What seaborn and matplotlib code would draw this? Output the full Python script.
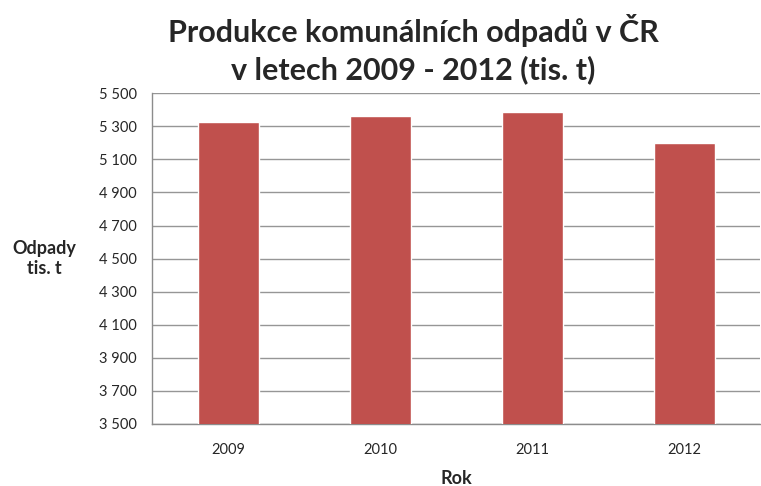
import pandas as pd
import matplotlib.pyplot as plt
import seaborn as sns
from matplotlib.ticker import FuncFormatter, FixedLocator

# data
years = ['2009', '2010', '2011', '2012']
odpady = [5324, 5363, 5387, 5197]
y_ticks = list(range(3500, 5501, 200))

df = pd.DataFrame({'Rok': years, 'Odpady': odpady})

sns.set_style('white')
plt.rcParams['font.family'] = ['Lato', 'DejaVu Sans']

fig = plt.figure(figsize=(7.61, 4.86), dpi=100)
ax = fig.add_axes([0.2, 0.128, 0.799, 0.68])

sns.barplot(data=df, x='Rok', y='Odpady', color='#C0504D', width=0.4,
            saturation=1, ax=ax, zorder=3)

ax.set_ylim(3500, 5500)
ax.set_xlim(-0.5, 3.5)
ax.set_yticks(y_ticks)
ax.yaxis.set_major_formatter(FuncFormatter(lambda v, p: f'{int(v):,}'.replace(',', ' ')))
ax.grid(axis='y', color='#969696', linewidth=1, zorder=0)
ax.set_axisbelow(True)

for s in ['top', 'right']:
    ax.spines[s].set_visible(False)
for s in ['left', 'bottom']:
    ax.spines[s].set_color('#8c8c8c')
    ax.spines[s].set_linewidth(1)

ax.tick_params(axis='y', length=5, color='#8c8c8c', labelsize=10.5, pad=6)
ax.tick_params(axis='x', which='major', length=0, labelsize=10.5, pad=14)
ax.xaxis.set_minor_locator(FixedLocator([-0.5, 0.5, 1.5, 2.5]))
ax.tick_params(axis='x', which='minor', length=5, color='#8c8c8c')

ax.set_xlabel('Rok', fontsize=13, fontweight='bold', labelpad=9)
ax.set_ylabel('Odpady\ntis. t', fontsize=13, fontweight='bold', rotation=0,
              ha='center', va='center')
ax.yaxis.set_label_coords(-0.177, 0.5)

fig.text(0.543, 0.972, 'Produkce komunálních odpadů v ČR\nv letech 2009 - 2012 (tis. t)',
         ha='center', va='top', fontsize=22, fontweight='bold', linespacing=1.37)

fig.savefig('out.png', dpi=100)
